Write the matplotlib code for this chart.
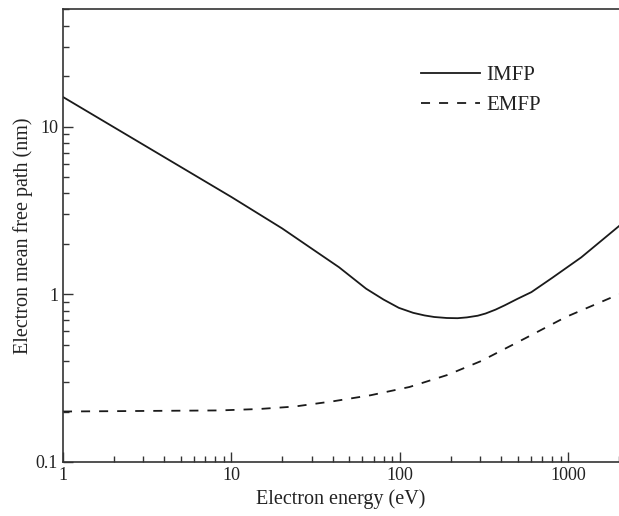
import numpy as np
import matplotlib
matplotlib.use('Agg')
import matplotlib.pyplot as plt
from matplotlib.ticker import LogLocator, NullFormatter, FixedLocator, FixedFormatter

plt.rcParams['font.family'] = ['Liberation Serif', 'DejaVu Serif']

# values
E_imfp = [1, 10, 20, 30, 43.5, 63, 80, 98.6, 120, 140, 160, 190, 220, 250, 290, 323, 370, 420, 500, 604, 800, 1194, 2000]
imfp = [15.0, 3.8, 2.47, 1.87, 1.45, 1.08, 0.93, 0.83, 0.775, 0.748, 0.732, 0.722, 0.72, 0.728, 0.745, 0.768, 0.81, 0.86, 0.94, 1.03, 1.25, 1.66, 2.55]

E_emfp = [1, 8.5, 14.6, 23.6, 40, 67, 114, 191, 304, 556, 962, 2000]
emfp = [0.2, 0.203, 0.207, 0.214, 0.23, 0.25, 0.28, 0.33, 0.4, 0.547, 0.73, 1.0]

xticks = [1, 10, 100, 1000]
xlabels = ['1', '10', '100', '1000']
yticks = [0.1, 1, 10]
ylabels = ['0.1', '1', '10']

fig = plt.figure(figsize=(6.19, 5.16), dpi=100)
ax = fig.add_axes([63/619, 54/516, 556/619, 452.7/516])

ax.plot(E_imfp, imfp, '-', color='#1a1a1a', lw=1.3, label='IMFP')
ax.plot(E_emfp, emfp, color='#1a1a1a', lw=1.3, ls=(0, (5, 5)), label='EMFP')

ax.set_xscale('log')
ax.set_yscale('log')
ax.set_xlim(1, 2000)
ax.set_ylim(0.1, 50)

ax.xaxis.set_major_locator(FixedLocator(xticks))
ax.xaxis.set_major_formatter(FixedFormatter(xlabels))
ax.yaxis.set_major_locator(FixedLocator(yticks))
ax.yaxis.set_major_formatter(FixedFormatter(ylabels))
ax.xaxis.set_minor_locator(LogLocator(base=10, subs=np.arange(2, 10)))
ax.yaxis.set_minor_locator(LogLocator(base=10, subs=np.arange(2, 10)))
ax.xaxis.set_minor_formatter(NullFormatter())
ax.yaxis.set_minor_formatter(NullFormatter())

ax.tick_params(which='both', direction='in', top=False, right=False, colors='#333333', labelcolor='#222222', labelsize=13)
ax.tick_params(which='major', length=7, width=1)
ax.tick_params(which='minor', length=4, width=1)
ax.spines['right'].set_visible(False)
for s in ['left', 'bottom', 'top']:
    ax.spines[s].set_color('#333333')
    ax.spines[s].set_linewidth(1.2)

ax.set_xlabel('Electron energy (eV)', fontsize=14.5, color='#222222', labelpad=4)
ax.set_ylabel('Electron mean free path (nm)', fontsize=14.5, color='#222222', labelpad=2)

ax.legend(loc='upper left', bbox_to_anchor=(0.611, 0.917), frameon=False, fontsize=15,
          handlelength=2.8, handletextpad=0.3, labelspacing=0.5, labelcolor='#222222')

fig.savefig('out.png', dpi=100)
